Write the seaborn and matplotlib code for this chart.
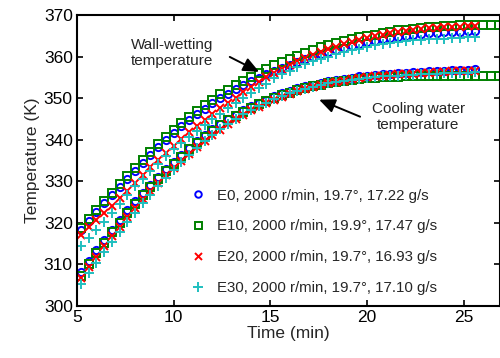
import matplotlib
matplotlib.use("Agg")
import matplotlib.pyplot as plt
import seaborn as sns
import pandas as pd

sns.set_theme(style="ticks")
plt.rcParams['font.family'] = ['Liberation Sans', 'DejaVu Sans']

TIME = [5.2, 5.6, 6.0, 6.4, 6.8, 7.2, 7.6, 8.0, 8.4, 8.8, 9.2, 9.6, 10.0, 10.4, 10.8,
        11.2, 11.6, 12.0, 12.4, 12.8, 13.2, 13.6, 14.0, 14.4, 14.8, 15.2, 15.6, 16.0,
        16.4, 16.8, 17.2, 17.6, 18.0, 18.4, 18.8, 19.2, 19.6, 20.0, 20.4, 20.8, 21.2,
        21.6, 22.0, 22.4, 22.8, 23.2, 23.6, 24.0, 24.4, 24.8, 25.2, 25.6, 26.0, 26.4, 26.8]

# Wall-wetting temperature (K)
E0_wall = [318.3, 320.4, 322.5, 324.6, 326.6, 328.6, 330.6, 332.5, 334.4, 336.3, 338.1, 339.9,
           341.6, 343.2, 344.7, 346.1, 347.4, 348.7, 349.9, 351.0, 352.1, 353.1, 354.0, 354.9,
           355.7, 356.5, 357.3, 358.0, 358.7, 359.3, 359.9, 360.5, 361.1, 361.6, 362.1, 362.6,
           363.0, 363.4, 363.8, 364.1, 364.4, 364.7, 365.0, 365.2, 365.4, 365.6, 365.7, 365.8,
           365.9, 366.0, 366.1, 366.2]
E10_wall = [318.7, 320.9, 323.0, 325.1, 327.2, 329.2, 331.2, 333.2, 335.1, 337.0, 338.9, 340.7,
            342.4, 344.0, 345.5, 346.9, 348.2, 349.5, 350.9, 352.0, 353.1, 354.1, 355.1, 356.1,
            357.0, 357.9, 358.7, 359.5, 360.2, 360.9, 361.6, 362.2, 362.8, 363.3, 363.8, 364.2,
            364.6, 365.0, 365.3, 365.7, 366.0, 366.3, 366.5, 366.7, 366.9, 367.0, 367.2, 367.3,
            367.4, 367.5, 367.5, 367.6, 367.6, 367.6, 367.7]
E20_wall = [317.1, 318.8, 320.5, 322.2, 323.9, 325.8, 327.7, 329.6, 331.5, 333.3, 335.1, 336.8,
            338.5, 340.1, 341.7, 343.2, 344.7, 346.1, 347.5, 348.8, 350.1, 351.4, 352.6, 353.8,
            355.0, 356.1, 357.1, 358.0, 358.9, 359.7, 360.4, 361.1, 361.8, 362.4, 363.0, 363.5,
            364.0, 364.5, 364.9, 365.3, 365.6, 365.9, 366.2, 366.4, 366.6, 366.8, 366.9, 367.0,
            367.1, 367.2, 367.3, 367.4]
E30_wall = [314.3, 316.2, 318.2, 320.2, 322.3, 324.5, 326.6, 328.7, 330.6, 332.4, 334.2, 336.0,
            337.6, 339.2, 340.7, 342.1, 343.5, 344.9, 346.2, 347.5, 348.8, 350.0, 351.2, 352.3,
            353.4, 354.8, 355.7, 356.6, 357.4, 358.1, 358.8, 359.4, 360.0, 360.5, 361.0, 361.5,
            361.9, 362.3, 362.7, 363.0, 363.3, 363.5, 363.7, 363.9, 364.0, 364.1, 364.2, 364.3,
            364.4, 364.5, 364.6, 364.7]

# Cooling water temperature (K)
E0_cool = [308.0, 310.8, 313.3, 315.8, 318.3, 320.7, 323.0, 325.2, 327.2, 329.1, 331.0, 332.8,
           334.6, 336.3, 338.0, 339.6, 341.1, 342.5, 343.8, 345.0, 346.0, 347.0, 348.0, 348.8,
           349.6, 350.4, 351.1, 351.7, 352.3, 352.8, 353.2, 353.6, 354.0, 354.3, 354.6, 354.9,
           355.2, 355.4, 355.6, 355.7, 355.8, 356.0, 356.1, 356.2, 356.3, 356.4, 356.5, 356.6,
           356.7, 356.8, 356.8, 356.9]
E10_cool = [307.2, 310.0, 312.6, 315.1, 317.6, 320.0, 322.3, 324.5, 326.6, 328.6, 330.5, 332.4,
            334.2, 335.9, 337.6, 339.2, 340.7, 342.1, 343.4, 344.6, 345.7, 346.7, 347.7, 348.5,
            349.3, 350.0, 350.7, 351.3, 351.9, 352.4, 352.8, 353.2, 353.6, 353.9, 354.2, 354.4,
            354.6, 354.8, 354.9, 355.0, 355.1, 355.1, 355.2, 355.2, 355.2, 355.3, 355.2, 355.2,
            355.3, 355.2, 355.2, 355.3, 355.2, 355.2, 355.2]
E20_cool = [306.7, 309.3, 311.8, 314.3, 316.7, 319.0, 321.3, 323.5, 325.6, 327.6, 329.5, 331.4,
            333.2, 334.9, 336.6, 338.2, 339.7, 341.1, 342.4, 343.7, 344.9, 346.0, 347.0, 347.9,
            348.8, 349.6, 350.3, 351.0, 351.6, 352.1, 352.6, 353.1, 353.5, 353.9, 354.2, 354.5,
            354.8, 355.0, 355.2, 355.4, 355.6, 355.7, 355.8, 355.9, 356.0, 356.1, 356.2, 356.3,
            356.4, 356.4, 356.5, 356.5]
E30_cool = [305.3, 307.8, 310.3, 312.8, 315.3, 317.7, 320.1, 322.4, 324.6, 326.7, 328.8, 330.8,
            332.7, 334.5, 336.3, 338.0, 339.6, 341.1, 342.5, 343.8, 345.0, 346.1, 347.1, 348.0,
            348.9, 349.7, 350.4, 351.1, 351.7, 352.2, 352.7, 353.1, 353.5, 353.8, 354.1, 354.4,
            354.6, 354.8, 355.0, 355.2, 355.3, 355.4, 355.5, 355.6, 355.7, 355.8, 355.9, 356.0,
            356.0, 356.1, 356.1, 356.2]

LABELS = ["E0, 2000 r/min, 19.7°, 17.22 g/s",
          "E10, 2000 r/min, 19.9°, 17.47 g/s",
          "E20, 2000 r/min, 19.7°, 16.93 g/s",
          "E30, 2000 r/min, 19.7°, 17.10 g/s"]

series = [
    (E0_wall, E0_cool, LABELS[0], "#0000ff", "o", 5.2, True),
    (E10_wall, E10_cool, LABELS[1], "#008000", "s", 5.6, True),
    (E20_wall, E20_cool, LABELS[2], "#ff0000", "x", 5.6, False),
    (E30_wall, E30_cool, LABELS[3], "#1fbfbf", "+", 7.6, False),
]

fig = plt.figure(figsize=(5.0, 3.58), dpi=100)
ax = fig.add_axes([0.154, 0.1466, 0.845, 0.8115])

for wall, cool, lab, col, mk, ms, hollow in series:
    for vals, lbl in ((wall, lab), (cool, "_nolegend_")):
        df = pd.DataFrame({"t": TIME[:len(vals)], "T": vals})
        kw = dict(marker=mk, linestyle="", color=col, markersize=ms,
                  markeredgewidth=1.4, markeredgecolor=col)
        if hollow:
            kw["markerfacecolor"] = "none"
        sns.lineplot(data=df, x="t", y="T", ax=ax, label=lbl, sort=False,
                     estimator=None, **kw)

ax.set_xlim(5, 26.85)
ax.set_ylim(300, 370)
ax.set_xticks([5, 10, 15, 20, 25])
ax.set_yticks([300, 310, 320, 330, 340, 350, 360, 370])
ax.tick_params(direction="in", top=True, right=True, length=4, width=1.2,
               labelsize=12.5, colors="black", pad=3)
for s in ax.spines.values():
    s.set_linewidth(1.5)
    s.set_color("black")
ax.set_xlabel("Time (min)", fontsize=12.5, labelpad=1)
ax.set_ylabel("Temperature (K)", fontsize=12.5, labelpad=3)

ax.text(9.9, 360.8, "Wall-wetting\ntemperature", ha="center", va="center",
        fontsize=11)
ax.annotate("", xy=(14.42, 356.3), xytext=(12.9, 359.9),
            arrowprops=dict(arrowstyle="-|>,head_length=0.8,head_width=0.35",
                            color="black", lw=1.4, shrinkA=0, shrinkB=0))
ax.text(22.64, 345.5, "Cooling water\ntemperature", ha="center", va="center",
        fontsize=11)
ax.annotate("", xy=(17.52, 349.6), xytext=(19.64, 345.5),
            arrowprops=dict(arrowstyle="-|>,head_length=0.8,head_width=0.35",
                            color="black", lw=1.4, shrinkA=0, shrinkB=0))

leg = ax.legend(loc="upper left", bbox_to_anchor=(0.255, 0.423), frameon=False,
                fontsize=10.8, handlelength=1.0, handletextpad=0.75,
                labelspacing=1.12, borderaxespad=0, markerscale=0.9)

fig.savefig("out.png", dpi=100)
